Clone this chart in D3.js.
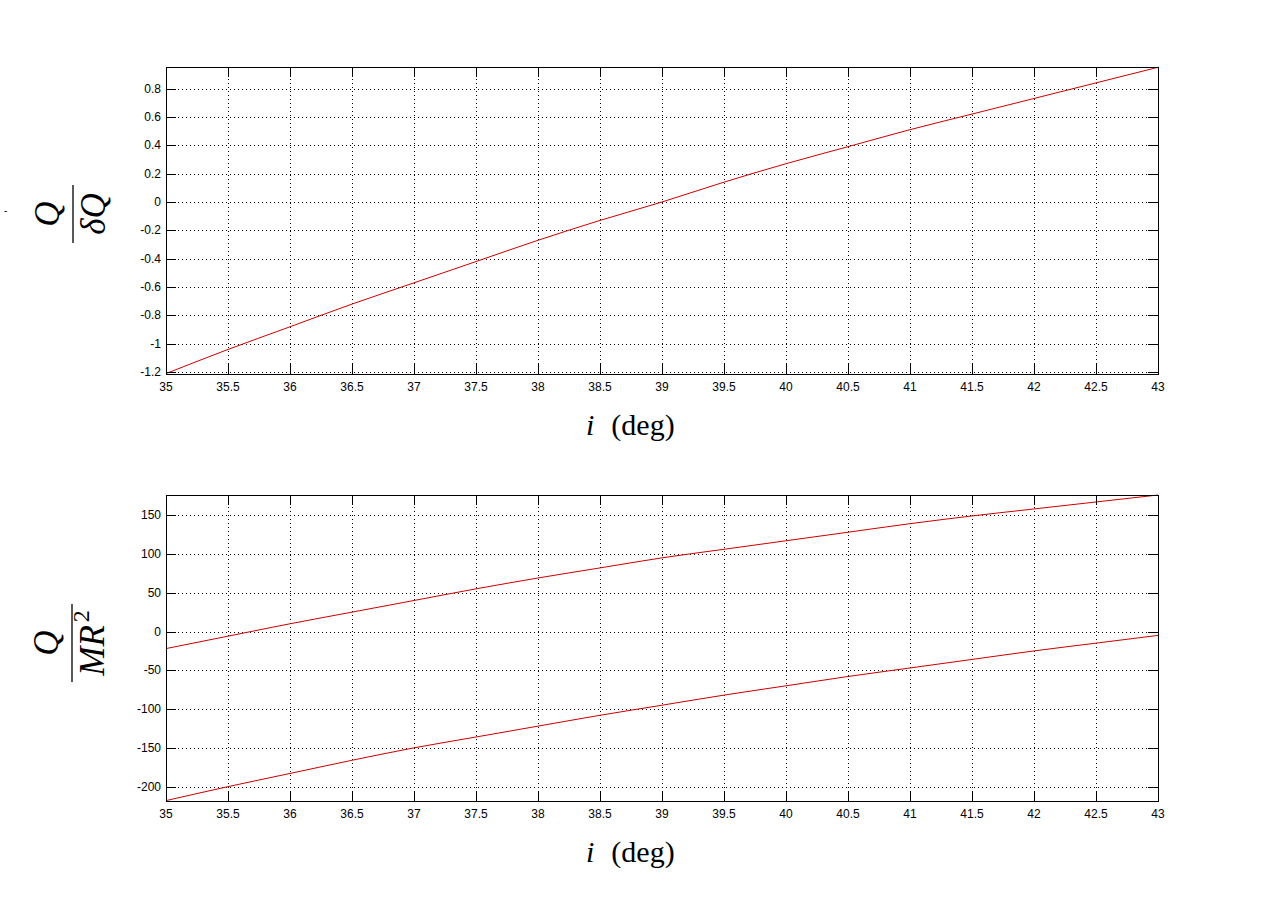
<!doctype html>
<html>
<head>
    <title>Q vs inclination</title>
    <script src="https://d3js.org/d3.v7.min.js"></script>
    <style>
        body { margin: 0; background: #fff; }
        text { fill: #000; }
    </style>
</head>
<body>
<svg width="1280" height="901"></svg>
<script>
    // inclination values (deg) where the curves were read
    var iDeg = [35, 35.5, 36, 36.5, 37, 37.5, 38, 38.5, 39, 39.5, 40, 40.5, 41, 41.5, 42, 42.5, 43];

    // top panel: Q / dQ
    var qOverDq = [-1.21, -1.04, -0.88, -0.72, -0.57, -0.42, -0.27, -0.13, 0.0, 0.14, 0.27, 0.39, 0.51, 0.62, 0.73, 0.84, 0.95];

    // bottom panel: Q / MR^2, two branches
    var qOverMr2Upper = [-22, -6, 10, 25, 40, 55, 69, 82, 95, 106, 117, 128, 139, 149, 158, 167, 176];
    var qOverMr2Lower = [-218, -200, -183, -166, -150, -136, -122, -108, -95, -82, -70, -58, -47, -36, -25, -15, -5];

    // tick labels
    var xTicks = [35, 35.5, 36, 36.5, 37, 37.5, 38, 38.5, 39, 39.5, 40, 40.5, 41, 41.5, 42, 42.5, 43];
    var yTicksTop = [-1.2, -1, -0.8, -0.6, -0.4, -0.2, 0, 0.2, 0.4, 0.6, 0.8];
    var yTicksBottom = [-200, -150, -100, -50, 0, 50, 100, 150];

    var svg = d3.select("svg");
    var lineColor = "#cc0000";

    // draws one MATLAB-style panel
    function panel(top, bottom, yDomain, yTicks, seriesList) {
        var left = 166, right = 1158;
        var x = d3.scaleLinear().domain([35, 43]).range([left, right]);
        var y = d3.scaleLinear().domain(yDomain).range([bottom, top]);
        var g = svg.append("g");

        // dotted grid
        g.selectAll(".gx").data(xTicks.slice(1, -1)).enter().append("line")
            .attr("x1", function(d) { return Math.round(x(d)) + 0.5; })
            .attr("x2", function(d) { return Math.round(x(d)) + 0.5; })
            .attr("y1", top).attr("y2", bottom)
            .attr("stroke", "#000").attr("stroke-dasharray", "1,3");
        g.selectAll(".gy").data(yTicks).enter().append("line")
            .attr("x1", left).attr("x2", right)
            .attr("y1", function(d) { return Math.round(y(d)) + 0.5; })
            .attr("y2", function(d) { return Math.round(y(d)) + 0.5; })
            .attr("stroke", "#000").attr("stroke-dasharray", "1,3");

        // curves
        var line = d3.line()
            .x(function(d, i) { return x(iDeg[i]); })
            .y(function(d) { return y(d); })
            .curve(d3.curveMonotoneX);
        seriesList.forEach(function(s) {
            g.append("path").datum(s)
                .attr("d", line)
                .attr("fill", "none")
                .attr("stroke", lineColor)
                .attr("stroke-width", 1);
        });

        // inward ticks on all four sides
        var tl = 10;
        xTicks.forEach(function(t) {
            var px = Math.round(x(t)) + 0.5;
            g.append("line").attr("x1", px).attr("x2", px).attr("y1", bottom).attr("y2", bottom - tl).attr("stroke", "#000");
            g.append("line").attr("x1", px).attr("x2", px).attr("y1", top).attr("y2", top + tl).attr("stroke", "#000");
            g.append("text").attr("x", x(t)).attr("y", bottom + 17)
                .attr("text-anchor", "middle")
                .style("font-family", "Liberation Sans, Arial, sans-serif")
                .style("font-size", "12px")
                .text(t);
        });
        yTicks.forEach(function(t) {
            var py = Math.round(y(t)) + 0.5;
            g.append("line").attr("x1", left).attr("x2", left + tl).attr("y1", py).attr("y2", py).attr("stroke", "#000");
            g.append("line").attr("x1", right).attr("x2", right - tl).attr("y1", py).attr("y2", py).attr("stroke", "#000");
            g.append("text").attr("x", left - 5).attr("y", y(t) + 4)
                .attr("text-anchor", "end")
                .style("font-family", "Liberation Sans, Arial, sans-serif")
                .style("font-size", "12px")
                .text(t);
        });

        // frame
        g.append("rect")
            .attr("x", left + 0.5).attr("y", top + 0.5)
            .attr("width", right - left).attr("height", bottom - top)
            .attr("fill", "none").attr("stroke", "#000");

        // x-axis label "i  (deg)"
        var xl = g.append("text")
            .attr("x", 586).attr("y", bottom + 61)
            .style("font-family", "Liberation Serif, Times New Roman, serif")
            .style("font-size", "30px");
        xl.append("tspan").style("font-style", "italic").text("i");
        xl.append("tspan").attr("dx", 17).text("(deg)");
    }

    // rotated fraction label for the y axis
    function fracLabel(cx, cy, barLen, numer, denomParts) {
        var g = svg.append("g").attr("transform", "translate(" + cx + "," + cy + ") rotate(-90)");
        g.append("line").attr("x1", -barLen / 2).attr("x2", barLen / 2)
            .attr("y1", 0).attr("y2", 0).attr("stroke", "#000").attr("stroke-width", 1.3);
        g.append("text").attr("x", 0).attr("y", -14)
            .attr("text-anchor", "middle")
            .style("font-family", "Liberation Serif, Times New Roman, serif")
            .style("font-style", "italic").style("font-size", "35px")
            .text(numer);
        var t = g.append("text").attr("x", 0).attr("y", 32)
            .attr("text-anchor", "middle")
            .style("font-family", "Liberation Serif, Times New Roman, serif")
            .style("font-style", "italic").style("font-size", "35px");
        denomParts.forEach(function(p) {
            var s = t.append("tspan").text(p.text);
            if (p.sup) s.attr("dy", -15).attr("dx", 3).style("font-size", "24px").style("font-style", "normal");
        });
    }

    panel(67, 374, [-1.213, 0.952], yTicksTop, [qOverDq]);
    panel(495, 801, [-218.5, 176], yTicksBottom, [qOverMr2Upper, qOverMr2Lower]);

    fracLabel(73, 214, 58, "Q", [{ text: "\u03B4Q" }]);
    fracLabel(72, 643, 78, "Q", [{ text: "MR" }, { text: "2", sup: true }]);

    // stray mark at far left of the figure
    svg.append("text").attr("x", 4).attr("y", 214)
        .style("font-family", "Liberation Sans, Arial, sans-serif")
        .style("font-size", "10px").text("-");
</script>
</body>
</html>
